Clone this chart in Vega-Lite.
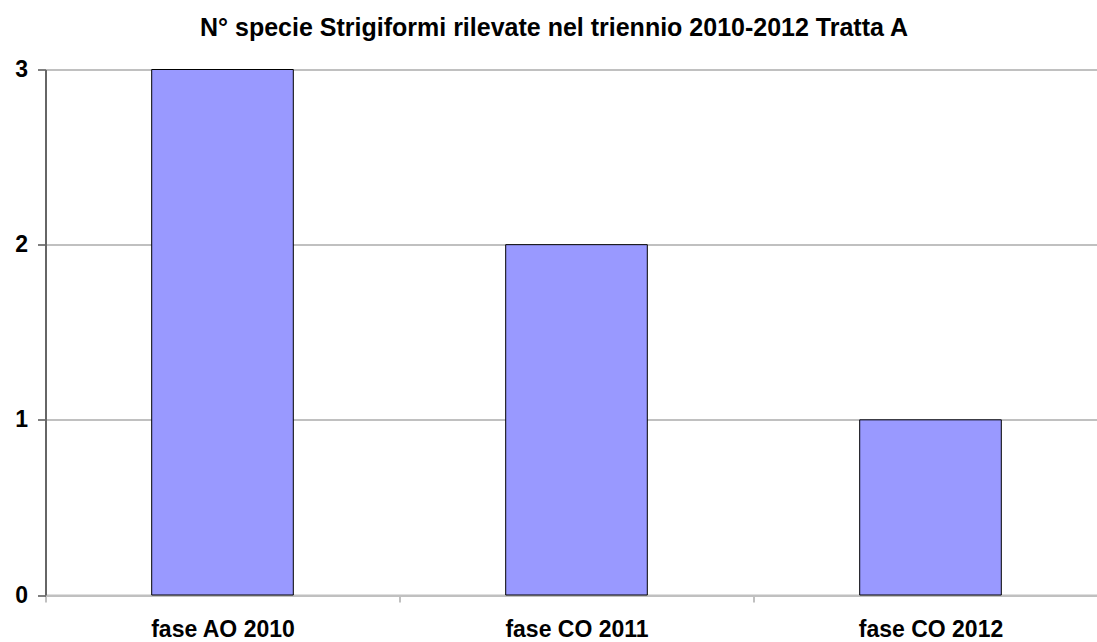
{
  "$schema": "https://vega.github.io/schema/vega-lite/v6.json",
  "autosize": "none",
  "padding": {"left": 45.5, "top": 69.5, "right": 0, "bottom": 47},
  "width": 1062,
  "height": 525.5,
  "background": "white",
  "title": {
    "text": "N° specie Strigiformi rilevate nel triennio 2010-2012 Tratta A",
    "font": "Liberation Sans",
    "fontSize": 25,
    "fontWeight": "bold",
    "color": "black",
    "anchor": "middle",
    "dx": -22.5,
    "offset": 18
  },
  "data": {
    "values": [
      {"fase": "fase AO 2010", "specie": 3},
      {"fase": "fase CO 2011", "specie": 2},
      {"fase": "fase CO 2012", "specie": 1}
    ]
  },
  "mark": {"type": "bar", "color": "#9999ff", "stroke": "black", "strokeWidth": 1, "width": {"band": 0.4}},
  "encoding": {
    "x": {
      "field": "fase",
      "type": "nominal",
      "sort": null,
      "scale": {"paddingInner": 0, "paddingOuter": 0},
      "axis": {
        "title": null,
        "labelAngle": 0,
        "labelFont": "Liberation Sans",
        "labelFontSize": 23,
        "labelFontWeight": "bold",
        "labelColor": "black",
        "labelPadding": 16,
        "tickBand": "extent",
        "tickColor": "#c0c0c0",
        "tickWidth": 2,
        "tickSize": 7,
        "domainColor": "#c0c0c0",
        "domainWidth": 2,
        "grid": false
      }
    },
    "y": {
      "field": "specie",
      "type": "quantitative",
      "scale": {"domain": [0, 3], "nice": false},
      "axis": {
        "title": null,
        "values": [0, 1, 2, 3],
        "labelFont": "Liberation Sans",
        "labelFontSize": 23,
        "labelFontWeight": "bold",
        "labelColor": "black",
        "labelPadding": 10,
        "tickColor": "#555555",
        "tickWidth": 1.5,
        "tickSize": 8,
        "domainColor": "#666666",
        "domainWidth": 2,
        "grid": true,
        "gridColor": "#c0c0c0",
        "gridWidth": 2
      }
    }
  },
  "config": {"view": {"stroke": null}}
}
